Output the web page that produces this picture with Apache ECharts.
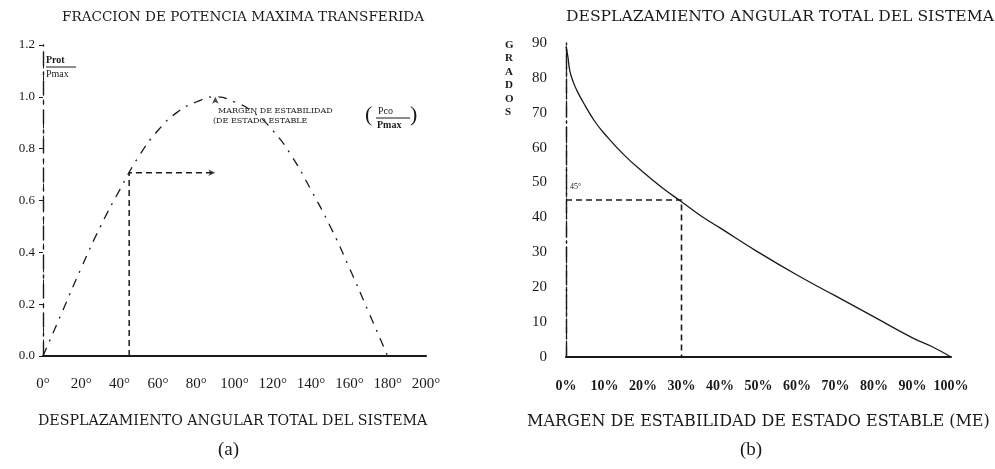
<!DOCTYPE html>
<html>
<head>
<meta charset="utf-8">
<script src="https://cdn.jsdelivr.net/npm/echarts@6/dist/echarts.min.js"></script>
<style>
  html, body { margin: 0; padding: 0; background: #fff; }
  #chart { width: 995px; height: 469px; }
</style>
</head>
<body>
<div id="chart"></div>
<script>
// (a) power-angle curve: transferred power fraction vs total angular displacement
const anglesA = [0, 10, 20, 30, 40, 50, 60, 70, 80, 90, 100, 110, 120, 130, 140, 150, 160, 170, 180];
const powerFraction = [0, 0.17, 0.34, 0.5, 0.64, 0.77, 0.87, 0.94, 0.98, 1.0, 0.98, 0.94, 0.87, 0.77, 0.64, 0.5, 0.34, 0.17, 0];
// operating point guide: angle 45°, fraction 0.707, carried over to the 90° peak
const guideAngleA = 45;
const guideFractionA = 0.707;
const peakAngleA = 90;
const peakFractionA = 1.0;
const yTicksA = [0, 0.2, 0.4, 0.6, 0.8, 1.0, 1.2];
const xTicksA = [0, 20, 40, 60, 80, 100, 120, 140, 160, 180, 200];

// (b) total angular displacement vs steady-state stability margin
const marginPct = [0, 0.5, 1, 2, 3, 5, 7.5, 10, 15, 20, 25, 30, 35, 40, 50, 60, 70, 80, 90, 95, 100];
const degreesB = [89, 86, 82, 78.5, 76, 72, 67.5, 64, 58, 53, 48.5, 44.5, 40.5, 37, 30, 23.5, 17.5, 11.5, 5.5, 3, 0];
const guideMarginB = 30;
const guideDegreesB = 45;
const yTicksB = [0, 10, 20, 30, 40, 50, 60, 70, 80, 90];
const xTicksB = [0, 10, 20, 30, 40, 50, 60, 70, 80, 90, 100];

const ink = '#1a1a1a';
const serif = '"Liberation Serif", "DejaVu Serif", serif';
const wide = '"DejaVu Serif", "Liberation Serif", serif';

const chart = echarts.init(document.getElementById('chart'), null, { renderer: 'canvas' });

const curveA = anglesA.map((a, i) => [a, powerFraction[i]]);
const curveB = marginPct.map((m, i) => [m, degreesB[i]]);

function frameAxis(gridIndex, position, type) {
  return {
    gridIndex, position, type: 'value',
    axisLine: { show: true, lineStyle: { color: ink, width: position === 'top' ? 1.8 : 1.4, type: type } },
    axisTick: { show: false }, axisLabel: { show: false }, splitLine: { show: false }
  };
}

const option = {
  backgroundColor: '#fff',
  animation: false,
  grid: [
    { left: 43, top: 45, width: 383, height: 311 },
    { left: 566, top: 43, width: 385, height: 314 }
  ],
  xAxis: [
    {
      gridIndex: 0, type: 'value', min: 0, max: 200, interval: 20,
      axisLine: { lineStyle: { color: ink, width: 1.6 } },
      axisTick: { show: false },
      splitLine: { show: false },
      axisLabel: { color: ink, fontFamily: serif, fontSize: 15, margin: 21, formatter: v => v + '°' }
    },
    Object.assign(frameAxis(0, 'top', 'solid'), { min: 0, max: 200 }),
    {
      gridIndex: 1, type: 'value', min: 0, max: 100, interval: 10,
      axisLine: { lineStyle: { color: ink, width: 1.6 } },
      axisTick: { show: false },
      splitLine: { show: false },
      axisLabel: { color: ink, fontFamily: serif, fontSize: 14, fontWeight: 'bold', margin: 22, formatter: v => v + '%' }
    },
    Object.assign(frameAxis(1, 'top', 'solid'), { min: 0, max: 100 })
  ],
  yAxis: [
    {
      gridIndex: 0, type: 'value', min: 0, max: 1.2, interval: 0.2,
      axisLine: { show: true, lineStyle: { color: ink, width: 1, type: [4, 8] } },
      axisTick: { show: true, length: 4, lineStyle: { color: ink } },
      splitLine: { show: false },
      axisLabel: { color: ink, fontFamily: serif, fontSize: 13, margin: 8, formatter: v => v.toFixed(1) }
    },
    Object.assign(frameAxis(0, 'right', [14, 6, 3, 6]), { min: 0, max: 1.2 }),
    {
      gridIndex: 1, type: 'value', min: 0, max: 90, interval: 10,
      axisLine: { show: true, lineStyle: { color: ink, width: 1.2, type: [10, 4, 2, 4] } },
      axisTick: { show: false },
      splitLine: { show: false },
      axisLabel: { color: ink, fontFamily: serif, fontSize: 15, margin: 19 }
    },
    Object.assign(frameAxis(1, 'right', [14, 4, 2, 4]), { min: 0, max: 90 })
  ],
  series: [
    {
      type: 'line', xAxisIndex: 0, yAxisIndex: 0, data: curveA, smooth: true,
      symbol: 'none', lineStyle: { color: ink, width: 1.3, type: [9, 7, 2, 7] }
    },
    {
      type: 'line', xAxisIndex: 0, yAxisIndex: 0,
      data: [[guideAngleA, 0], [guideAngleA, guideFractionA], [peakAngleA, guideFractionA]],
      symbol: 'none', lineStyle: { color: ink, width: 1.5, type: [6, 4] }
    },
    {
      type: 'scatter', xAxisIndex: 0, yAxisIndex: 0,
      data: [
        { value: [peakAngleA, guideFractionA], symbolRotate: -90 },
        { value: [peakAngleA, peakFractionA], symbolRotate: 0 }
      ],
      symbol: 'arrow', symbolSize: [5, 7], itemStyle: { color: ink }
    },
    {
      type: 'line', xAxisIndex: 2, yAxisIndex: 2, data: curveB, smooth: true,
      symbol: 'none', lineStyle: { color: ink, width: 1.3 }
    },
    {
      type: 'line', xAxisIndex: 2, yAxisIndex: 2,
      data: [[0, guideDegreesB], [guideMarginB, guideDegreesB], [guideMarginB, 0]],
      symbol: 'none', lineStyle: { color: ink, width: 1.6, type: [6, 4] }
    }
  ],
  graphic: [
    { type: 'text', left: 62, top: 10, style: { text: 'FRACCION DE POTENCIA MAXIMA TRANSFERIDA', font: '13.6px ' + wide, fill: ink } },
    { type: 'text', left: 566, top: 9, style: { text: 'DESPLAZAMIENTO ANGULAR TOTAL DEL SISTEMA', font: '15.6px ' + wide, fill: ink } },
    // fraction beside the y axis of (a)
    { type: 'text', left: 46, top: 55, style: { text: 'Prot', font: 'bold 10px ' + serif, fill: ink } },
    { type: 'line', shape: { x1: 46, y1: 67, x2: 76, y2: 67 }, style: { stroke: ink, lineWidth: 1 } },
    { type: 'text', left: 46, top: 69, style: { text: 'Pmax', font: '10px ' + serif, fill: ink } },
    // stability-margin note of (a)
    { type: 'text', left: 218, top: 107, style: { text: 'MARGEN DE ESTABILIDAD', font: '8px ' + wide, fill: ink } },
    { type: 'text', left: 213, top: 117, style: { text: '(DE ESTADO ESTABLE', font: '8px ' + wide, fill: ink } },
    { type: 'text', left: 365, top: 104, style: { text: '(', font: '22px ' + serif, fill: ink } },
    { type: 'text', left: 378, top: 106, style: { text: 'Pco', font: '10px ' + serif, fill: ink } },
    { type: 'line', shape: { x1: 376, y1: 118, x2: 410, y2: 118 }, style: { stroke: ink, lineWidth: 1.2 } },
    { type: 'text', left: 377, top: 120, style: { text: 'Pmax', font: 'bold 10px ' + serif, fill: ink } },
    { type: 'text', left: 410, top: 104, style: { text: ')', font: '22px ' + serif, fill: ink } },
    // axis name of (b), stacked letters
    { type: 'text', left: 505, top: 38, style: { text: 'G\nR\nA\nD\nO\nS', font: 'bold 11px ' + serif, lineHeight: 13.5, fill: ink, align: 'center' } },
    { type: 'text', left: 570, top: 183, style: { text: '45°', font: '8px ' + serif, fill: ink } },
    // bottom captions
    { type: 'text', left: 38, top: 414, style: { text: 'DESPLAZAMIENTO ANGULAR TOTAL DEL SISTEMA', font: '14.2px ' + wide, fill: ink } },
    { type: 'text', left: 218, top: 441, style: { text: '(a)', font: '19px ' + serif, fill: ink } },
    { type: 'text', left: 527, top: 414, style: { text: 'MARGEN DE ESTABILIDAD DE ESTADO ESTABLE (ME)', font: '16px ' + wide, fill: ink } },
    { type: 'text', left: 740, top: 441, style: { text: '(b)', font: '19px ' + serif, fill: ink } }
  ]
};

chart.setOption(option);
</script>
</body>
</html>
